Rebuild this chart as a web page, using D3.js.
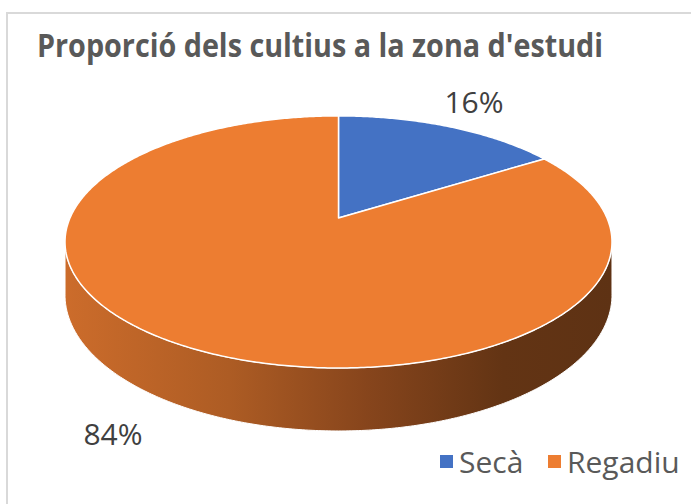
<!DOCTYPE html>
<html><head><meta charset="utf-8">
<script src="https://cdn.jsdelivr.net/npm/d3@7"></script>
<style>body{margin:0;background:#fff}svg{display:block}</style>
</head><body>
<svg id="c" width="691" height="504"></svg>
<script>
const categories = ["Secà", "Regadiu"];
const values = [16, 84];
const labels = ["16%", "84%"];
const colors = ["#4472C4", "#ED7D31"];

const svg = d3.select("#c");

// chart border
svg.append("rect").attr("x", 7).attr("y", 13).attr("width", 700).attr("height", 520)
  .attr("fill", "#fff").attr("stroke", "#d9d9d9").attr("stroke-width", 2);

// title
svg.append("text").attr("x", 37).attr("y", 57)
  .attr("font-family", "Open Sans, sans-serif").attr("font-weight", 700)
  .attr("font-size", 33).attr("fill", "#595959")
  .attr("textLength", 566).attr("lengthAdjust", "spacingAndGlyphs")
  .text("Proporció dels cultius a la zona d'estudi");

// 3D perspective projection of a tilted disc
const cx = 338.5, cy = 218, A = 268.5, B = 121.5, p = 0.19, depth = 51;
function project(phi, z, k = 1) {
  const x3 = k * Math.sin(phi), y3 = -k * Math.cos(phi);
  const w = 1 - p * y3;
  return [cx + A * x3 / w, cy + (B * y3 + z * depth) / w];
}

const pie = d3.pie().sort(null).value(d => d)
  .startAngle(0).endAngle(2 * Math.PI);
const arcs = pie(values);

function arcPts(a0, a1, z) {
  const n = Math.max(2, Math.ceil(Math.abs(a1 - a0) / 0.01));
  return d3.range(n + 1).map(i => project(a0 + (a1 - a0) * i / n, z));
}

// side wall: find silhouette extremes
const samples = d3.range(0, 2 * Math.PI, 0.001);
const phiR = samples.reduce((b, a) => project(a, 0)[0] > project(b, 0)[0] ? a : b, samples[0]);
const phiL = samples.reduce((b, a) => project(a, 0)[0] < project(b, 0)[0] ? a : b, samples[0]);

const defs = svg.append("defs");
const grad = defs.append("linearGradient").attr("id", "sideG")
  .attr("gradientUnits", "userSpaceOnUse").attr("x1", 65).attr("x2", 612).attr("y1", 0).attr("y2", 0);
[[0, "#cc6c2b"], [0.3, "#ad5c24"], [0.55, "#87451c"], [0.8, "#633414"], [1, "#5e3214"]]
  .forEach(([o, c]) => grad.append("stop").attr("offset", o).attr("stop-color", c));

const line = d3.line();
arcs.forEach((a, i) => {
  const s = Math.max(a.startAngle, phiR), e = Math.min(a.endAngle, phiL);
  if (e <= s) return;
  const top = arcPts(s, e, 0), bot = arcPts(e, s, 1);
  svg.append("path").attr("d", line(top.concat(bot)) + "Z")
    .attr("fill", i === 1 ? "url(#sideG)" : "#2f5597")
    .attr("stroke", "#fff").attr("stroke-width", 1).attr("stroke-linejoin", "round");
});

// top faces
arcs.forEach((a, i) => {
  const pts = [project(0, 0, 0)].concat(arcPts(a.startAngle, a.endAngle, 0));
  svg.append("path").attr("d", line(pts) + "Z")
    .attr("fill", colors[i]).attr("stroke", "#fff").attr("stroke-width", 1.5)
    .attr("stroke-linejoin", "round");
});

// data labels
const labelPos = [[474, 113], [113, 445]];
arcs.forEach((a, i) => {
  svg.append("text").attr("x", labelPos[i][0]).attr("y", labelPos[i][1])
    .attr("text-anchor", "middle").attr("font-family", "Open Sans, sans-serif")
    .attr("font-size", 30).attr("fill", "#404040").text(labels[i]);
});

// legend
const lg = svg.append("g");
const legX = [440, 548];
categories.forEach((c, i) => {
  lg.append("rect").attr("x", legX[i]).attr("y", 455).attr("width", 13).attr("height", 13).attr("fill", colors[i]);
  lg.append("text").attr("x", legX[i] + 19).attr("y", 473)
    .attr("font-family", "Open Sans, sans-serif").attr("font-size", 30).attr("fill", "#595959").text(c);
});
</script>
</body></html>
